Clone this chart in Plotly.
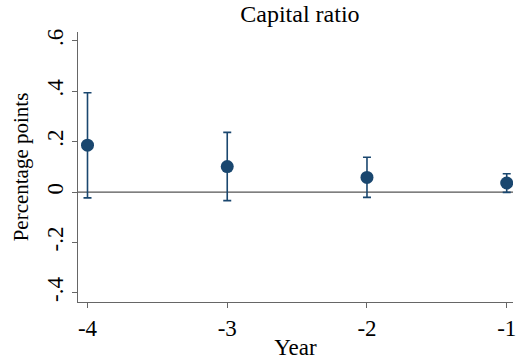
import plotly.graph_objects as go

years = [-4, -3, -2, -1]
coef = [0.186, 0.101, 0.058, 0.036]
ci_hi = [0.394, 0.237, 0.138, 0.073]
ci_lo = [-0.023, -0.034, -0.021, -0.001]
xticks = [-4, -3, -2, -1]
yticks = [-0.4, -0.2, 0, 0.2, 0.4, 0.6]
yticklabels = ["-.4", "-.2", "0", ".2", ".4", ".6"]

navy = "#1a476f"
font = "Liberation Serif"

fig = go.Figure()
fig.add_trace(go.Scatter(
    x=years, y=coef, mode="markers",
    marker=dict(color=navy, size=13),
    error_y=dict(type="data", symmetric=False,
                 array=[h - c for h, c in zip(ci_hi, coef)],
                 arrayminus=[c - l for c, l in zip(coef, ci_lo)],
                 color=navy, thickness=1.6, width=4),
    showlegend=False,
))
fig.add_shape(type="line", xref="paper", x0=0, x1=1, yref="y", y0=0, y1=0,
              line=dict(color="#555555", width=1.3), layer="below")

fig.update_layout(
    width=518, height=360,
    margin=dict(l=78, r=2, t=32, b=58),
    paper_bgcolor="white", plot_bgcolor="white",
    font=dict(family=font, size=22, color="black"),
    title=dict(text="Capital ratio", x=0.579, xanchor="center", y=0.985, yanchor="top",
               font=dict(family=font, size=24)),
    xaxis=dict(range=[-4.068, -0.955], tickvals=xticks, ticktext=[str(v) for v in xticks],
               showgrid=False, zeroline=False, showline=True, linecolor="#666666", linewidth=1.3,
               ticks="outside", ticklen=5, tickcolor="#666666", tickfont=dict(size=23),
               ticklabeloverflow="allow",
               title=dict(text="Year", standoff=0, font=dict(size=23))),
    yaxis=dict(range=[-0.436, 0.635], tickvals=yticks, ticktext=yticklabels,
               tickangle=-90, tickfont=dict(size=23),
               showgrid=False, zeroline=False, showline=True, linecolor="#666666", linewidth=1.3,
               ticks="outside", ticklen=5, tickcolor="#666666",
               title=dict(text="Percentage points", standoff=8, font=dict(size=21))),
)

fig.write_html("out.html")
